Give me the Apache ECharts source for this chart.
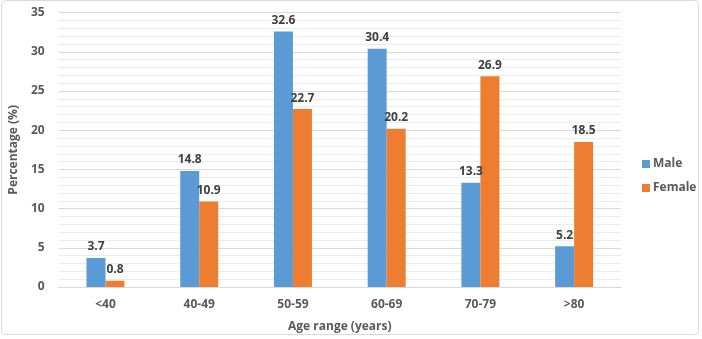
<!DOCTYPE html>
<html>
<head>
<meta charset="utf-8">
<script src="https://cdn.jsdelivr.net/npm/echarts@6/dist/echarts.min.js"></script>
<style>
  html, body { margin: 0; padding: 0; background: #fff; }
  #chart { width: 702px; height: 339px; }
</style>
</head>
<body>
<div id="chart"></div>
<script>
var categories = ['<40', '40-49', '50-59', '60-69', '70-79', '>80'];
var male = [3.7, 14.8, 32.6, 30.4, 13.3, 5.2];
var female = [0.8, 10.9, 22.7, 20.2, 26.9, 18.5];
var yTicks = [0, 5, 10, 15, 20, 25, 30, 35];

var font = '"Open Sans", "Liberation Sans", sans-serif';
var textColor = '#595959';

var chart = echarts.init(document.getElementById('chart'));

var labelStyle = {
  show: true,
  position: 'top',
  distance: 5,
  fontFamily: font,
  fontSize: 12,
  fontWeight: 'bold',
  color: '#404040',
  formatter: function (p) { return p.value.toFixed(1); }
};

chart.setOption({
  animation: false,
  textStyle: { fontFamily: font },
  graphic: [{
    type: 'rect',
    shape: { x: 1.5, y: 0.5, width: 697, height: 334, r: 4 },
    style: { fill: 'none', stroke: '#d9d9d9', lineWidth: 1 },
    silent: true
  }],
  grid: { left: 52, right: 81, top: 12.7, bottom: 52, containLabel: false },
  legend: {
    orient: 'vertical',
    left: 637,
    top: 153,
    itemWidth: 8,
    itemHeight: 8,
    itemGap: 12,
    icon: 'rect',
    textStyle: { fontFamily: font, fontSize: 12, fontWeight: 'bold', color: textColor, padding: [0, 0, 0, -2] },
    data: ['Male', 'Female']
  },
  xAxis: {
    type: 'category',
    data: categories,
    name: 'Age range (years)',
    nameLocation: 'middle',
    nameGap: 34,
    nameTextStyle: { fontFamily: font, fontSize: 12, fontWeight: 'bold', color: textColor },
    axisLine: { show: true, lineStyle: { color: '#d9d9d9', width: 1 } },
    axisTick: { show: false },
    axisLabel: { fontFamily: font, fontSize: 12, fontWeight: 'bold', color: textColor, margin: 12 }
  },
  yAxis: {
    type: 'value',
    min: yTicks[0],
    max: yTicks[yTicks.length - 1],
    interval: 5,
    name: 'Percentage (%)',
    nameLocation: 'middle',
    nameGap: 33,
    nameRotate: 90,
    nameTextStyle: { fontFamily: font, fontSize: 12, fontWeight: 'bold', color: textColor },
    axisLine: { show: false },
    axisTick: { show: false },
    axisLabel: { fontFamily: font, fontSize: 12, fontWeight: 'bold', color: textColor, margin: 14 },
    splitLine: { show: true, lineStyle: { color: '#d9d9d9', width: 1 } },
    minorTick: { show: false, splitNumber: 5 },
    minorSplitLine: { show: true, lineStyle: { color: '#ececec', width: 1 } }
  },
  series: [{
    name: 'Male',
    type: 'bar',
    data: male,
    barWidth: 19,
    barGap: '0%',
    itemStyle: { color: '#5b9bd5' },
    label: labelStyle
  }, {
    name: 'Female',
    type: 'bar',
    data: female,
    barWidth: 19,
    itemStyle: { color: '#ed7d31' },
    label: labelStyle
  }]
});
</script>
</body>
</html>
